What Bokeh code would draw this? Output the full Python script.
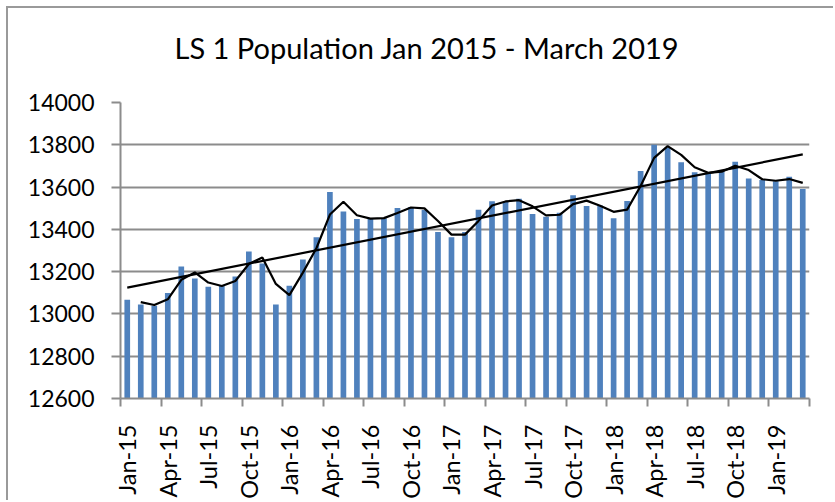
import numpy as np
from bokeh.plotting import figure
from bokeh.models import FixedTicker, Range1d, Title, ColumnDataSource
from bokeh.embed import file_html
from bokeh.resources import INLINE
from math import pi

title_text = "LS 1 Population Jan 2015 - March 2019"

months = ["Jan-15", "Feb-15", "Mar-15", "Apr-15", "May-15", "Jun-15", "Jul-15", "Aug-15", "Sep-15", "Oct-15", "Nov-15", "Dec-15",
          "Jan-16", "Feb-16", "Mar-16", "Apr-16", "May-16", "Jun-16", "Jul-16", "Aug-16", "Sep-16", "Oct-16", "Nov-16", "Dec-16",
          "Jan-17", "Feb-17", "Mar-17", "Apr-17", "May-17", "Jun-17", "Jul-17", "Aug-17", "Sep-17", "Oct-17", "Nov-17", "Dec-17",
          "Jan-18", "Feb-18", "Mar-18", "Apr-18", "May-18", "Jun-18", "Jul-18", "Aug-18", "Sep-18", "Oct-18", "Nov-18", "Dec-18",
          "Jan-19", "Feb-19", "Mar-19"]

population = [13067, 13045, 13039, 13099, 13224, 13168, 13129, 13135, 13177, 13295, 13239, 13045,
              13133, 13258, 13363, 13577, 13484, 13449, 13453, 13453, 13501, 13506, 13492, 13387,
              13363, 13387, 13493, 13533, 13531, 13545, 13473, 13460, 13478, 13561, 13511, 13513,
              13453, 13534, 13676, 13800, 13788, 13717, 13670, 13665, 13681, 13720, 13641, 13633,
              13627, 13649, 13591]

y_ticks = [12600, 12800, 13000, 13200, 13400, 13600, 13800, 14000]

FONT = "Lato"
GRID = "#8c8c8c"

n = len(months)
idx = np.arange(n)
vals = np.array(population, dtype=float)

# 2-period moving average
ma_x = idx[1:]
ma_y = (vals[1:] + vals[:-1]) / 2.0

# linear trendline
slope, intercept = np.polyfit(idx, vals, 1)
tr_x = np.array([idx[0], idx[-1]])
tr_y = slope * tr_x + intercept

p = figure(width=827, height=494, output_backend="svg", toolbar_location=None,
           x_range=Range1d(-0.5, n - 0.5), y_range=Range1d(y_ticks[0], y_ticks[-1]),
           min_border_left=112, min_border_right=26, min_border_top=94, min_border_bottom=104,
           title=None)
p.styles = {"margin-left": "8px", "margin-top": "8px", "box-shadow": "-2px -2px 0 0 #9a9a9a"}
p.outline_line_color = None

# spacer between frame and title (nearest the frame), then the title itself
p.add_layout(Title(text=" ", standoff=35, text_font_size="1px"), "above")
p.add_layout(Title(text=title_text, align="left", offset=54, standoff=0,
                   text_font=FONT, text_font_size="29px", text_font_style="normal",
                   text_color="black"), "above")

src = ColumnDataSource(dict(x=idx, top=vals))
p.vbar(x="x", top="top", bottom=y_ticks[0], width=0.42, source=src,
       fill_color="#4F81BD", line_color=None)
p.line(ma_x, ma_y, line_color="black", line_width=2.2)
p.line(tr_x, tr_y, line_color="black", line_width=2.2)

# y axis
p.yaxis.ticker = FixedTicker(ticks=y_ticks)
p.yaxis.axis_line_color = GRID
p.yaxis.axis_line_width = 2
p.yaxis.major_tick_line_color = GRID
p.yaxis.major_tick_line_width = 2
p.yaxis.major_tick_in = 0
p.yaxis.major_tick_out = 9
p.yaxis.minor_tick_line_color = None
p.yaxis.major_label_standoff = 17
p.yaxis.major_label_text_font = FONT
p.yaxis.major_label_text_font_size = "23px"
p.yaxis.major_label_text_color = "black"
p.ygrid.grid_line_color = GRID
p.ygrid.grid_line_width = 2

# x axis: labels at every 3rd category, tick marks at category boundaries
label_pos = list(range(0, n, 3))
bound_pos = [i - 0.5 for i in range(0, n + 1, 3)] + [n - 0.5]
p.xaxis.ticker = FixedTicker(ticks=label_pos, minor_ticks=bound_pos)
p.xaxis.major_label_overrides = {i: months[i] for i in label_pos}
p.xaxis.major_label_orientation = pi / 2
p.xaxis.axis_line_color = GRID
p.xaxis.axis_line_width = 2
p.xaxis.major_tick_line_color = None
p.xaxis.major_tick_in = 0
p.xaxis.major_tick_out = 0
p.xaxis.minor_tick_line_color = GRID
p.xaxis.minor_tick_line_width = 2
p.xaxis.minor_tick_in = 0
p.xaxis.minor_tick_out = 8
p.xaxis.major_label_standoff = 18
p.xaxis.major_label_text_font = FONT
p.xaxis.major_label_text_font_size = "23.5px"
p.xaxis.major_label_text_color = "black"
p.xgrid.grid_line_color = None

open("out.html", "w").write(file_html(p, INLINE))
